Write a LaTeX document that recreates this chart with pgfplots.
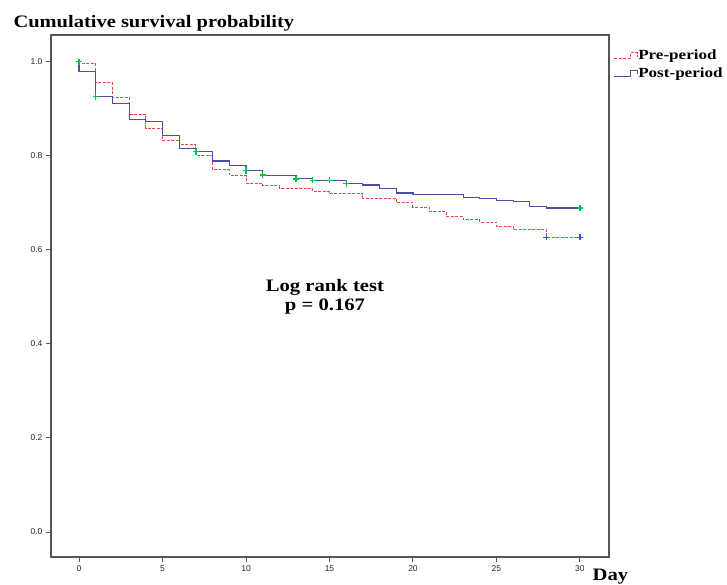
\documentclass[border=0pt]{standalone}
\usepackage{fontspec}
\setmainfont{Liberation Serif}
\newfontfamily\arial{Liberation Sans}
\usepackage{pgfplots}
\pgfplotsset{compat=1.18}
\definecolor{preRed}{RGB}{228,72,72}
\definecolor{postBlue}{RGB}{78,78,160}
\definecolor{censGreen}{RGB}{0,200,70}
\definecolor{censBlue}{RGB}{50,90,200}
\definecolor{axisGray}{RGB}{85,85,85}

\begin{document}
\begin{tikzpicture}
\begin{axis}[
  scale only axis,
  width=558pt, height=522pt,
  xmin=-1.68, xmax=31.74,
  ymin=-0.053, ymax=1.057,
  clip=false,
  axis line style={draw=axisGray, line width=1.6pt},
  xtick={0,5,...,30},
  ytick={0,0.2,0.4,0.6,0.8,1.0},
  tick align=outside, tick pos=left,
  major tick length=5pt,
  tick style={draw=axisGray, line width=1pt},
  tick label style={font=\arial\fontsize{8.5}{10}\selectfont, text=black!85},
  /pgf/number format/assume math mode=true,
  yticklabel style={/pgf/number format/.cd, fixed, fixed zerofill, precision=1},
  xticklabel style={/pgf/number format/.cd, fixed, precision=0},
  legend style={at={(1.008,0.972)}, anchor=north west, draw=none, fill=none,
    inner sep=0pt, row sep=5pt,
    font=\bfseries\fontsize{14}{15}\selectfont,
    nodes={inner sep=0.5pt}},
  legend cell align=left,
  legend image code/.code={%
    \draw[#1] (0pt,-3pt) -- (16pt,-3pt) -- (16pt,3pt) -- (23pt,3pt) -- (23pt,-1pt);},
]
% Pre-period
\addplot[const plot, draw=preRed, line width=1pt, dash pattern=on 3pt off 1.5pt]
  coordinates {(0,1.0) (0,0.996) (1,0.955) (2,0.925) (3,0.888) (4,0.859)
    (5,0.832) (6,0.824) (7,0.801) (8,0.770) (9,0.758) (10,0.742) (11,0.736)
    (12,0.731) (14,0.724) (15,0.720) (17,0.710) (19,0.701) (20,0.691)
    (21,0.681) (22,0.671) (23,0.664) (24,0.659) (25,0.650) (26,0.643)
    (28,0.627) (30,0.627)};
\addlegendentry{\scalebox{1.22}[1]{Pre-period}}
% Post-period
\addplot[const plot, draw=postBlue, line width=1.1pt]
  coordinates {(0,1.0) (0,0.979) (1,0.926) (2,0.911) (3,0.877) (4,0.873)
    (5,0.844) (6,0.815) (7,0.809) (8,0.789) (9,0.779) (10,0.769) (11,0.759)
    (13,0.751) (14,0.748) (16,0.741) (17,0.738) (18,0.731) (19,0.721)
    (20,0.717) (23,0.712) (24,0.709) (25,0.705) (26,0.703) (27,0.692)
    (28,0.689) (30,0.689)};
\addlegendentry{\scalebox{1.22}[1]{Post-period}}
% censored marks
\addplot[forget plot, only marks, mark=+, mark size=3.2pt, censGreen, mark options={line width=1.3pt}]
  coordinates {(0,1.0) (1,0.926) (7,0.809) (10,0.769) (11,0.759) (13,0.751)
    (14,0.748) (15,0.748) (16,0.741) (30,0.689)};
\addplot[forget plot, only marks, mark=+, mark size=3.2pt, censBlue, mark options={line width=1.3pt}]
  coordinates {(28,0.627) (30,0.627)};

\node[anchor=base west, font=\bfseries\fontsize{17.5}{20}\selectfont]
  at (rel axis cs:-0.0735,1.014) {\scalebox{1.17}[1]{Cumulative survival probability}};
\node[anchor=base, font=\bfseries\fontsize{17.5}{20}\selectfont]
  at (rel axis cs:0.491,0.508) {\scalebox{1.18}[1]{Log rank test}};
\node[anchor=base, font=\bfseries\fontsize{17.5}{20}\selectfont]
  at (rel axis cs:0.491,0.473) {\scalebox{1.18}[1]{p = 0.167}};
\node[anchor=base, font=\bfseries\fontsize{17.5}{20}\selectfont]
  at (rel axis cs:1.0027,-0.045) {\scalebox{1.18}[1]{Day}};

\coordinate (bbsw) at (rel axis cs:-0.0914,-0.0536);
\coordinate (bbne) at (rel axis cs:1.2115,1.067);
\end{axis}
\pgfresetboundingbox
\path (bbsw) rectangle (bbne);
\end{tikzpicture}
\end{document}
